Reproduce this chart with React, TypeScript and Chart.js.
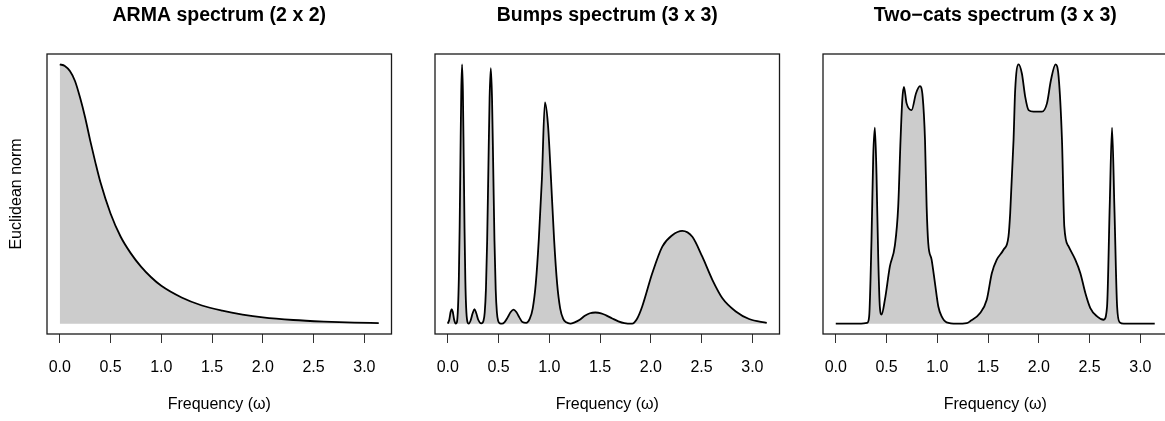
import React, { useEffect, useRef } from "react";
import { Chart, registerables } from "chart.js";

Chart.register(...registerables);

// ---- data -------------------------------------------------------------
const tickValues = [0, 0.5, 1.0, 1.5, 2.0, 2.5, 3.0];
const xLabel = "Frequency (\u03c9)";
const yLabel = "Euclidean norm";
const titles = [
  "ARMA spectrum (2 x 2)",
  "Bumps spectrum (3 x 3)",
  "Two\u2212cats spectrum (3 x 3)",
];

const armaFreq = [0, 0.05, 0.1, 0.15, 0.2, 0.25, 0.3, 0.35, 0.4, 0.5, 0.6, 0.7, 0.8, 0.9, 1.0, 1.2, 1.4, 1.6, 1.8, 2.0, 2.3, 2.6, 2.9, 3.1416];
const armaNorm = [1.0, 0.994, 0.974, 0.936, 0.872, 0.795, 0.706, 0.623, 0.546, 0.425, 0.335, 0.271, 0.22, 0.179, 0.146, 0.101, 0.07, 0.05, 0.035, 0.024, 0.014, 0.008, 0.004, 0.002];

const bumpsFreq = [
  0, 0.015, 0.028, 0.039, 0.05, 0.063, 0.079,
  0.09, 0.101, 0.109, 0.117, 0.125, 0.133, 0.141, 0.149, 0.157, 0.165, 0.173, 0.181, 0.192, 0.207,
  0.225, 0.245, 0.263, 0.281, 0.3, 0.33,
  0.352, 0.364, 0.376, 0.388, 0.4, 0.412, 0.424, 0.436, 0.448, 0.46, 0.472, 0.484, 0.496, 0.515, 0.533,
  0.56, 0.59, 0.62, 0.648, 0.675, 0.705, 0.735, 0.773,
  0.807, 0.837, 0.867, 0.897, 0.927, 0.957, 0.987, 1.017, 1.047, 1.077, 1.107, 1.137, 1.167, 1.207,
  1.25, 1.3, 1.35, 1.4, 1.454, 1.51, 1.56, 1.62, 1.68, 1.74, 1.816,
  1.866, 1.915, 2.014, 2.113, 2.211, 2.31, 2.409, 2.507, 2.606, 2.705, 2.837, 2.968, 3.1416,
];
const bumpsNorm = [
  0, 0.015, 0.045, 0.056, 0.045, 0.015, 0.0,
  0.005, 0.063, 0.17, 0.369, 0.642, 0.895, 1.0, 0.895, 0.642, 0.369, 0.17, 0.063, 0.01, 0.0,
  0.012, 0.04, 0.056, 0.04, 0.015, 0.001,
  0.011, 0.043, 0.133, 0.32, 0.597, 0.869, 0.985, 0.869, 0.597, 0.32, 0.133, 0.043, 0.011, 0.001, 0.0,
  0.006, 0.024, 0.045, 0.054, 0.045, 0.024, 0.006, 0.003,
  0.018, 0.059, 0.155, 0.327, 0.557, 0.853, 0.767, 0.557, 0.327, 0.155, 0.059, 0.018, 0.005, 0.0,
  0.005, 0.015, 0.03, 0.04, 0.043, 0.04, 0.032, 0.02, 0.009, 0.002, 0.0,
  0.02, 0.066, 0.194, 0.297, 0.341, 0.358, 0.335, 0.258, 0.169, 0.098, 0.047, 0.018, 0.003,
];

const catsFreq = [
  0, 0.25, 0.309, 0.329, 0.352, 0.369, 0.385, 0.401, 0.418, 0.434, 0.451,
  0.484, 0.533, 0.582, 0.615, 0.638, 0.655, 0.671, 0.698, 0.747, 0.79, 0.829, 0.856, 0.879, 0.895, 0.911, 0.944, 0.977, 1.01, 1.043, 1.092, 1.191,
  1.29, 1.323, 1.422, 1.487, 1.537, 1.586, 1.652, 1.701, 1.718, 1.751, 1.767, 1.8, 1.833, 1.866, 1.899, 1.948, 2.03, 2.08, 2.119, 2.165, 2.195, 2.228, 2.251, 2.293, 2.359, 2.409, 2.458, 2.507, 2.573, 2.639,
  2.672, 2.698, 2.721, 2.744, 2.771, 2.797, 2.836, 3.1416,
];
const catsNorm = [
  0, 0, 0.003, 0.028, 0.322, 0.642, 0.754, 0.578, 0.258, 0.066, 0.035,
  0.092, 0.22, 0.3, 0.45, 0.706, 0.859, 0.91, 0.847, 0.821, 0.885, 0.913, 0.872, 0.706, 0.45, 0.309, 0.246, 0.156, 0.066, 0.028, 0.005, 0.0,
  0.002, 0.009, 0.041, 0.092, 0.194, 0.246, 0.284, 0.335, 0.425, 0.706, 0.898, 0.997, 0.962, 0.872, 0.821, 0.815, 0.815, 0.847, 0.936, 0.997, 0.949, 0.706, 0.373, 0.297, 0.246, 0.194, 0.118, 0.06, 0.028, 0.015,
  0.066, 0.45, 0.754, 0.45, 0.066, 0.005, 0.0, 0.0,
];

// ---- styling ------------------------------------------------------------
const FAMILY = "'Liberation Sans', Arial, Helvetica, sans-serif";
const PANEL_STEP = 388;
const CANVAS_W = 400;
const CANVAS_H = 421;

const boxPlugin = {
  id: "rbox",
  afterDraw(chart: any) {
    const { ctx, chartArea } = chart;
    ctx.save();
    ctx.strokeStyle = "#1a1a1a";
    ctx.lineWidth = 1.3;
    ctx.strokeRect(chartArea.left, chartArea.top, chartArea.right - chartArea.left, chartArea.bottom - chartArea.top);
    ctx.restore();
  },
};

type PanelProps = { index: number; title: string; xs: number[]; ys: number[]; showY: boolean };

function Panel({ index, title, xs, ys, showY }: PanelProps) {
  const ref = useRef<HTMLCanvasElement>(null);
  useEffect(() => {
    const xmin = Math.min(...xs);
    const xmax = Math.max(...xs);
    const ymin = 0;
    const ymax = Math.max(...ys);
    const xpad = 0.04 * (xmax - xmin);
    const ypad = 0.04 * (ymax - ymin);
    const chart = new Chart(ref.current as HTMLCanvasElement, {
      type: "line",
      data: {
        datasets: [
          {
            data: xs.map((x, i) => ({ x, y: ys[i] })),
            borderColor: "#000000",
            borderWidth: 1.8,
            backgroundColor: "#cccccc",
            fill: "origin",
            pointRadius: 0,
            cubicInterpolationMode: "monotone",
          } as any,
        ],
      },
      options: {
        responsive: false,
        animation: false,
        devicePixelRatio: 1,
        layout: { padding: { left: 0, right: 8.5, top: 0, bottom: 0 } },
        plugins: {
          legend: { display: false },
          tooltip: { enabled: false },
          title: {
            display: true,
            text: title,
            fullSize: false,
            color: "#000",
            font: { family: FAMILY, size: 19.5, weight: "bold" },
            padding: { top: 4, bottom: 26.6 },
          },
        },
        scales: {
          x: {
            type: "linear",
            min: xmin - xpad,
            max: xmax + xpad,
            afterBuildTicks: (s: any) => {
              s.ticks = tickValues.map((v) => ({ value: v }));
            },
            afterFit: (s: any) => {
              s.height = 87;
            },
            grid: { display: true, drawOnChartArea: false, drawTicks: true, tickLength: 9, color: "#333", lineWidth: 1 },
            border: { display: false },
            ticks: {
              autoSkip: false,
              maxRotation: 0,
              color: "#000",
              padding: 15,
              font: { family: FAMILY, size: 16 },
              callback: (v: any) => Number(v).toFixed(1),
            },
            title: {
              display: true,
              text: xLabel,
              color: "#000",
              font: { family: FAMILY, size: 16 },
              padding: { top: 0, bottom: 6.5 },
            },
          },
          y: {
            type: "linear",
            min: ymin - ypad,
            max: ymax + ypad,
            afterFit: (s: any) => {
              s.width = 47;
            },
            grid: { display: false },
            border: { display: false },
            ticks: { display: false },
            title: {
              display: showY,
              text: yLabel,
              color: "#000",
              font: { family: FAMILY, size: 16 },
              padding: { top: 7.4, bottom: 0 },
            },
          },
        },
      } as any,
      plugins: [boxPlugin],
    });
    return () => chart.destroy();
  }, []);
  return (
    <canvas
      ref={ref}
      width={CANVAS_W}
      height={CANVAS_H}
      style={{ position: "absolute", left: index * PANEL_STEP, top: 0, width: CANVAS_W, height: CANVAS_H }}
    />
  );
}

export default function App() {
  return (
    <div
      style={{
        position: "absolute",
        left: 0,
        top: 0,
        width: 1165,
        height: 421,
        overflow: "hidden",
        background: "#ffffff",
      }}
    >
      <Panel index={0} title={titles[0]} xs={armaFreq} ys={armaNorm} showY={true} />
      <Panel index={1} title={titles[1]} xs={bumpsFreq} ys={bumpsNorm} showY={false} />
      <Panel index={2} title={titles[2]} xs={catsFreq} ys={catsNorm} showY={false} />
    </div>
  );
}
